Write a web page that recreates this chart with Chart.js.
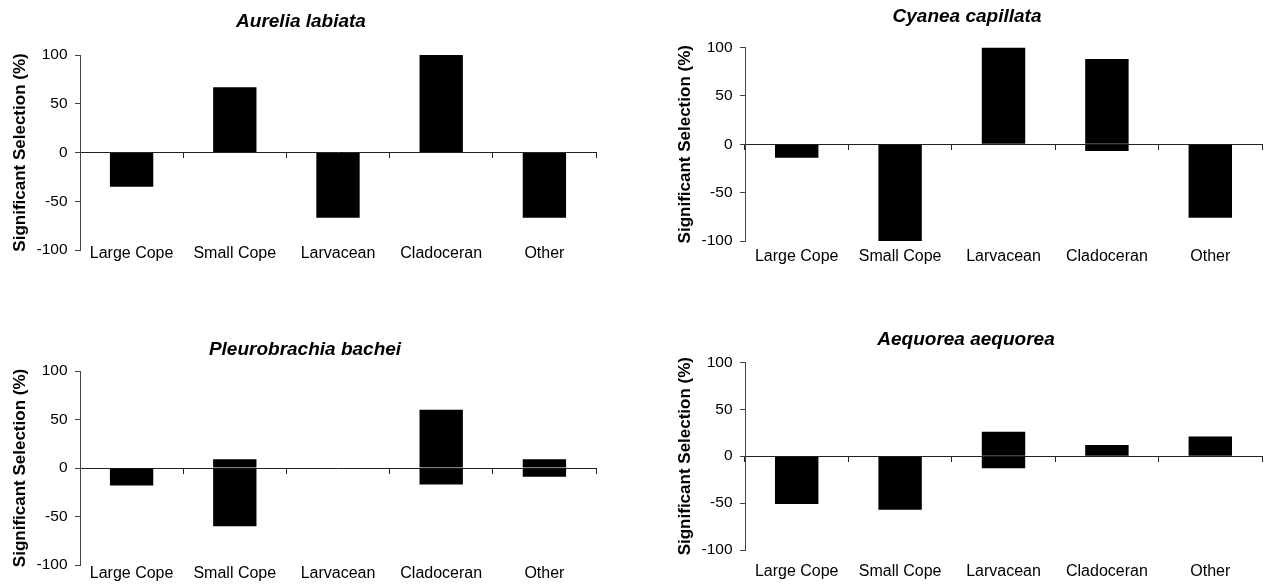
<!DOCTYPE html>
<html>
<head>
<meta charset="utf-8">
<script src="https://cdn.jsdelivr.net/npm/chart.js@4/dist/chart.umd.min.js"></script>
<style>
  html, body { margin: 0; padding: 0; background: #fff; }
  body { width: 1265px; height: 585px; position: relative; overflow: hidden; }
  .panel { position: absolute; }
  canvas { display: block; }
</style>
</head>
<body>
<div class="panel" style="left:0px;top:0px;width:620px;height:285px"><canvas id="c1" width="620" height="285"></canvas></div>
<div class="panel" style="left:640px;top:0px;width:625px;height:285px"><canvas id="c2" width="625" height="285"></canvas></div>
<div class="panel" style="left:0px;top:300px;width:620px;height:285px"><canvas id="c3" width="620" height="285"></canvas></div>
<div class="panel" style="left:640px;top:300px;width:625px;height:285px"><canvas id="c4" width="625" height="285"></canvas></div>
<script>
// ---- data ----
const categories = ['Large Cope', 'Small Cope', 'Larvacean', 'Cladoceran', 'Other'];
const yAxisTitle = 'Significant Selection (%)';
const yMin = -100;
const yMax = 100;
const yStep = 50;

const aureliaTitle = 'Aurelia labiata';
const aureliaPos = [0, 67, 0, 100, 0];
const aureliaNeg = [-35, 0, -67, 0, -67];

const cyaneaTitle = 'Cyanea capillata';
const cyaneaPos = [0, 0, 100, 88, 0];
const cyaneaNeg = [-14, -100, 0, -7, -76];

const pleuroTitle = 'Pleurobrachia bachei';
const pleuroPos = [0, 9, 0, 60, 9];
const pleuroNeg = [-18, -60, 0, -17, -9];

const aequoreaTitle = 'Aequorea aequorea';
const aequoreaPos = [0, 0, 26, 12, 21];
const aequoreaNeg = [-51, -57, -13, 0, 0];

// ---- layout / style ----
Chart.defaults.font.family = "'Liberation Sans', Arial, Helvetica, sans-serif";
Chart.defaults.color = '#000';

function makeChart(id, title, pos, neg, L) {
  return new Chart(document.getElementById(id), {
    type: 'bar',
    data: {
      labels: categories,
      datasets: [
        { data: pos, backgroundColor: '#000', borderWidth: 0, barPercentage: 0.42, categoryPercentage: 1 },
        { data: neg, backgroundColor: '#000', borderWidth: 0, barPercentage: 0.42, categoryPercentage: 1 }
      ]
    },
    options: {
      responsive: false,
      animation: false,
      events: [],
      layout: { padding: { left: L.padL, right: L.padR, top: 0, bottom: L.padB } },
      plugins: {
        legend: { display: false },
        tooltip: { enabled: false },
        title: {
          display: true,
          text: title,
          color: '#000',
          font: { size: 19, weight: 'bold', style: 'italic' },
          padding: { top: L.tTop, bottom: L.tBot }
        }
      },
      scales: {
        x: {
          type: 'category',
          position: { y: 0 },
          stacked: true,
          offset: true,
          grid: { display: true, offset: true, drawOnChartArea: false, drawTicks: true, tickLength: 5, color: '#222', lineWidth: 1 },
          border: { display: true, color: '#222', width: 1 },
          ticks: { display: false }
        },
        x2: {
          type: 'category',
          position: { y: yMin },
          offset: true,
          grid: { display: false, drawTicks: false, offset: true },
          border: { display: false },
          ticks: { color: '#000', font: { size: 16 }, padding: L.labPad, maxRotation: 0, minRotation: 0, autoSkip: false }
        },
        y: {
          position: 'left',
          stacked: true,
          min: yMin,
          max: yMax,
          ticks: { stepSize: yStep, color: '#000', font: { size: 15.5 }, padding: 7.5 },
          grid: { display: true, drawOnChartArea: false, drawTicks: true, tickLength: 5, color: '#444' },
          border: { display: true, color: '#444', width: 1 },
          title: {
            display: true,
            text: yAxisTitle,
            color: '#000',
            font: { size: 17, weight: 'bold' },
            padding: { top: L.yTitleTop, bottom: 0 }
          },
          afterFit: function (s) { s.width = L.yWidth; }
        }
      }
    }
  });
}

makeChart('c1', aureliaTitle, aureliaPos, aureliaNeg,
  { padL: 6, padR: 24, padB: 35, tTop: 10.6, tBot: 21.6, yWidth: 74, yTitleTop: 3.8, labPad: -5.6 });
makeChart('c2', cyaneaTitle, cyaneaPos, cyaneaNeg,
  { padL: 32, padR: 3, padB: 44, tTop: 5.6, tBot: 19.1, yWidth: 73, yTitleTop: 2.8, labPad: 5.9 });
makeChart('c3', pleuroTitle, pleuroPos, pleuroNeg,
  { padL: 14, padR: 24, padB: 20, tTop: 38.6, tBot: 9.6, yWidth: 66, yTitleTop: -4.2, labPad: -0.6 });
makeChart('c4', aequoreaTitle, aequoreaPos, aequoreaNeg,
  { padL: 30, padR: 3, padB: 35, tTop: 28.6, tBot: 10.9, yWidth: 75, yTitleTop: 4.8, labPad: 12.4 });
</script>
</body>
</html>
